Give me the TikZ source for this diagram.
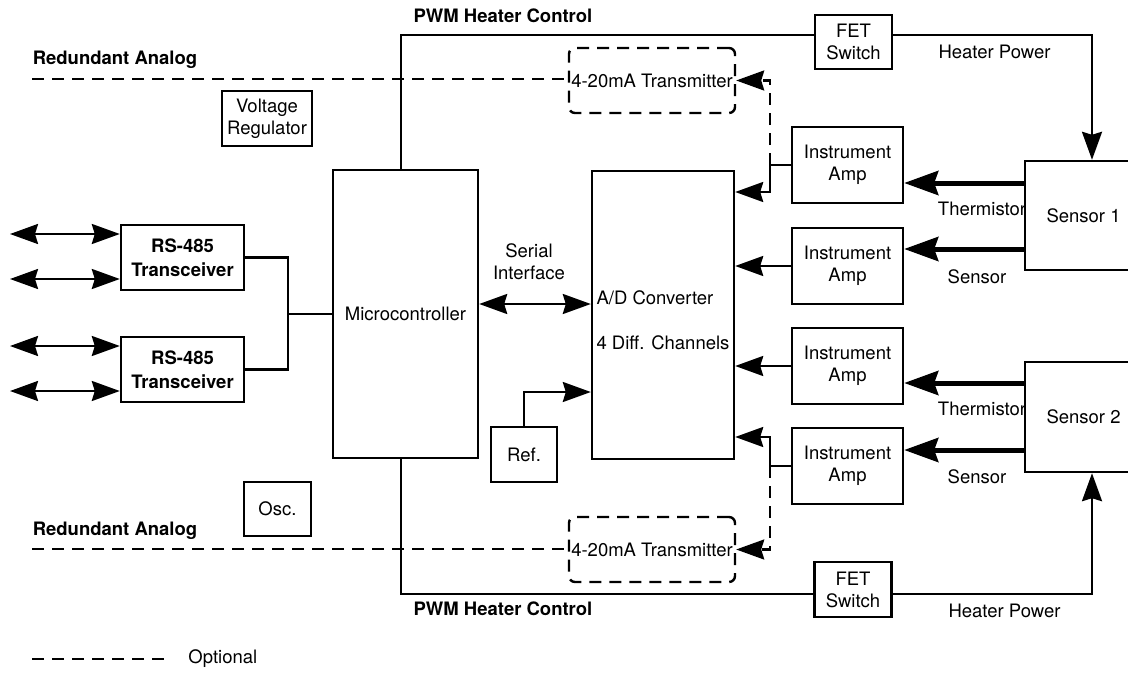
\documentclass[tikz,border=0pt]{standalone}
\usepackage{fontspec}
\setmainfont{TeX Gyre Heros}
\usetikzlibrary{arrows.meta,calc}
\begin{document}
\begin{tikzpicture}[x=0.5pt,y=-0.5pt,
  font=\fontsize{9.25}{11}\selectfont,
  box/.style={draw,line width=1.2pt,inner sep=0pt,align=center},
  ln/.style={line width=1.2pt},
  arr/.style={ln,-{Stealth[length=14pt,width=10pt,inset=1.5pt]}},
  dbl/.style={ln,{Stealth[length=14pt,width=10pt,inset=1.5pt]}-{Stealth[length=14pt,width=10pt,inset=1.5pt]}},
  thk/.style={line width=2.5pt,-{Stealth[length=17pt,width=12pt,inset=2pt]}},
  opt/.style={line width=1.2pt,dash pattern=on 6pt off 4pt},
  lbl/.style={inner sep=0pt},
  bold/.style={font=\fontsize{9.25}{12}\selectfont\bfseries}]
\useasboundingbox (0,0) rectangle (1128,674);

% boxes
\node[box,minimum width=72.5pt,minimum height=144pt] (micro) at (405.5,314) {Microcontroller};
\node[box,minimum width=71pt,minimum height=144pt,
  label={[align=left,inner sep=0pt,yshift=-2.5pt]center:A/D Converter\\[11.5pt]4 Diff. Channels}] (adc) at (663,315) {};
\node[box,minimum width=33pt,minimum height=27.5pt] (ref) at (524,454.5) {Ref.};
\node[box,minimum width=45pt,minimum height=27.5pt] (vreg) at (267,118.5) {Voltage\\Regulator};
\node[box,minimum width=33.5pt,minimum height=27pt] (osc) at (277.5,509) {Osc.};
\node[box,bold,minimum width=61.5pt,minimum height=32.5pt] (rs1) at (182.5,257.5) {RS-485\\Transceiver};
\node[box,bold,minimum width=61.5pt,minimum height=32.5pt] (rs2) at (182.5,369.5) {RS-485\\Transceiver};
\node[box,minimum width=55.5pt,minimum height=38pt] (amp1) at (847.5,165) {Instrument\\Amp};
\node[box,minimum width=55.5pt,minimum height=38pt] (amp2) at (847.5,266) {Instrument\\Amp};
\node[box,minimum width=55.5pt,minimum height=38pt] (amp3) at (847.5,366) {Instrument\\Amp};
\node[box,minimum width=55.5pt,minimum height=38pt] (amp4) at (847.5,466) {Instrument\\Amp};
\node[box,minimum width=58.5pt,minimum height=54.5pt] (sens1) at (1083.5,215.5) {Sensor 1};
\node[box,minimum width=58.5pt,minimum height=55pt] (sens2) at (1083.5,417) {Sensor 2};
\node[box,minimum width=38.5pt,minimum height=27pt] (fet1) at (853.5,42) {FET\\Switch};
\node[box,minimum width=38.5pt,minimum height=27.5pt] (fet2) at (853,589.5) {FET\\Switch};
\node[box,opt,rounded corners=3pt,minimum width=83pt,minimum height=32.5pt] (tx1) at (652,80.5) {4-20mA Transmitter};
\node[box,opt,rounded corners=3pt,minimum width=83pt,minimum height=32.5pt] (tx2) at (652,549.5) {4-20mA Transmitter};

% labels
\node[lbl] (th1) at (982,209) {Thermistor};
\node[lbl] (sn1) at (977,277) {Sensor};
\node[lbl] (th2) at (982,409) {Thermistor};
\node[lbl] (sn2) at (977,477) {Sensor};
\node[lbl] (hp1) at (994.5,52) {Heater Power};
\node[lbl] (hp2) at (1004.5,611) {Heater Power};
\node[lbl,bold] (pwm1) at (503,16) {PWM Heater Control};
\node[lbl,bold] (pwm2) at (503,609) {PWM Heater Control};
\node[lbl,bold] (ral1) at (115,60) {Redundant Analog};
\node[lbl,bold] (ral2) at (115,531) {Redundant Analog};
\node[lbl,align=center] (ser) at (529,262) {Serial\\Interface};
\node[lbl,anchor=west] (optl) at (188,659) {Optional};

% PWM heater control
\coordinate (p1) at (401,35);
\coordinate (p2) at (401,594);
\draw[ln] (micro.north -| p1) -- (p1) -- (p1 -| fet1.west);
\draw[ln] (micro.south -| p2) -- (p2) -- (p2 -| fet2.west);
\coordinate (h1) at (1092,35);
\coordinate (h2) at (1092,594);
\draw[arr] (h1 -| fet1.east) -- (h1) -- (h1 |- sens1.north);
\draw[arr] (h2 -| fet2.east) -- (h2) -- (h2 |- sens2.south);

% redundant analog
\coordinate (ra1) at (32,79);
\coordinate (ra2) at (32,549);
\draw[opt] (ra1) -- (ra1 -| tx1.west);
\draw[opt] (ra2) -- (ra2 -| tx2.west);

% legend
\coordinate (lg) at (32,659);
\draw[opt] (lg) -- ([xshift=-11.5pt]optl.west);

% RS-485
\coordinate (r1) at (10,234);
\coordinate (r2) at (10,279);
\coordinate (r3) at (10,346);
\coordinate (r4) at (10,391);
\draw[dbl] (r1) -- (r1 -| rs1.west);
\draw[dbl] (r2) -- (r2 -| rs1.west);
\draw[dbl] (r3) -- (r3 -| rs2.west);
\draw[dbl] (r4) -- (r4 -| rs2.west);
\coordinate (j) at (288,314);
\draw[ln] (rs1.east) -| (j) |- (rs2.east);
\draw[ln] (j) -- (micro.west);

% serial, ref
\draw[dbl] ([yshift=5pt]micro.east) -- ([yshift=5pt]micro.east -| adc.west);
\draw[arr] (ref.north) |- ([yshift=-38.5pt]adc.west);

% amps to ADC and transmitters
\coordinate (a1) at (770,192);
\coordinate (t1) at (770,80.5);
\draw[arr] (amp1.west) -| (a1) -- (a1 -| adc.east);
\draw[arr,opt] (amp1.west -| a1) -- (t1) -- (t1 -| tx1.east);
\draw[arr] (amp2.west) -- (amp2.west -| adc.east);
\draw[arr] (amp3.west) -- (amp3.west -| adc.east);
\coordinate (a4) at (770,437);
\coordinate (t4) at (770,549.5);
\draw[arr] (amp4.west) -| (a4) -- (a4 -| adc.east);
\draw[arr,opt] (amp4.west -| a4) -- (t4) -- (t4 -| tx2.east);

% sensors to amps
\draw[thk] ([yshift=16.25pt]sens1.west) -- ([yshift=16.25pt]sens1.west -| amp1.east);
\draw[thk] ([yshift=-16.75pt]sens1.west) -- ([yshift=-16.75pt]sens1.west -| amp2.east);
\draw[thk] ([yshift=17pt]sens2.west) -- ([yshift=17pt]sens2.west -| amp3.east);
\draw[thk] ([yshift=-16.5pt]sens2.west) -- ([yshift=-16.5pt]sens2.west -| amp4.east);
\end{tikzpicture}
\end{document}
